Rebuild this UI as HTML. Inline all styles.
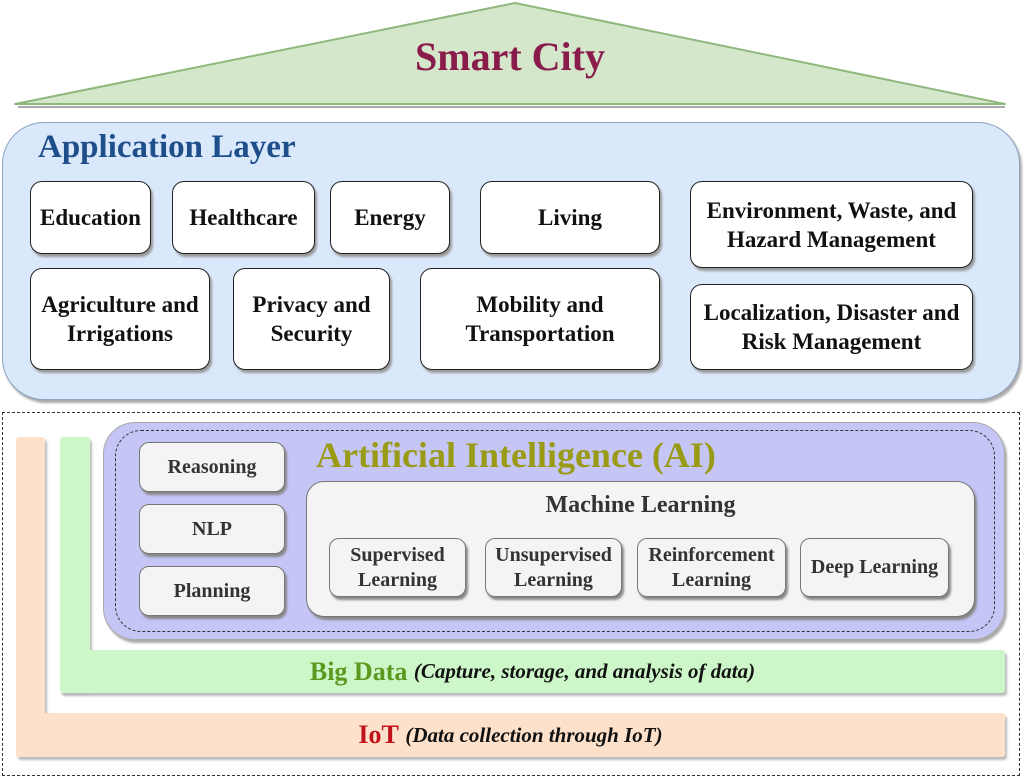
<!DOCTYPE html>
<html><head><meta charset="utf-8"><style>
body{margin:0;width:1024px;height:779px;background:#fff;position:relative;overflow:hidden;font-family:"Liberation Serif",serif;font-weight:bold}
.a{position:absolute;box-sizing:border-box}
.b{position:absolute;box-sizing:border-box;background:#fff;border:1.5px solid #222;border-radius:12px;box-shadow:2px 3px 2px #999;display:flex;align-items:center;justify-content:center;text-align:center;font-size:23px;line-height:29px;color:#111}
.g{position:absolute;box-sizing:border-box;background:#f4f4f4;border:1.5px solid #777;border-radius:10px;box-shadow:2px 3px 2px #888;display:flex;align-items:center;justify-content:center;text-align:center;font-size:20px;line-height:25px;color:#333}
</style></head><body>
<svg class="a" style="left:0;top:0" width="1024" height="120">
<polygon points="515,3 1005,104 15,104" fill="#d4e7cb" stroke="#8fb87e" stroke-width="2" stroke-linejoin="round"/>
<line x1="18" y1="107" x2="1005" y2="107" stroke="#aaa" stroke-width="2"/>
<text x="510" y="70" text-anchor="middle" font-family="Liberation Serif" font-weight="bold" font-size="40" fill="#8a1c4c">Smart City</text>
</svg>
<div class="a" style="left:2px;top:122px;width:1018px;height:278px;background:#dae8fb;border:1.5px solid #8ea3bf;border-radius:42px;box-shadow:2px 3px 2px #aaa"></div>
<div class="a" style="left:38px;top:129px;font-size:33px;color:#1f4f8a">Application Layer</div>
<div class="b" style="left:30px;top:181px;width:121px;height:73px">Education</div>
<div class="b" style="left:172px;top:181px;width:143px;height:73px">Healthcare</div>
<div class="b" style="left:330px;top:181px;width:120px;height:73px">Energy</div>
<div class="b" style="left:480px;top:181px;width:180px;height:73px">Living</div>
<div class="b" style="left:690px;top:181px;width:283px;height:87px">Environment, Waste, and<br>Hazard Management</div>
<div class="b" style="left:30px;top:268px;width:180px;height:102px">Agriculture and<br>Irrigations</div>
<div class="b" style="left:233px;top:268px;width:157px;height:102px">Privacy and<br>Security</div>
<div class="b" style="left:420px;top:268px;width:240px;height:102px">Mobility and<br>Transportation</div>
<div class="b" style="left:690px;top:284px;width:283px;height:86px">Localization, Disaster and<br>Risk Management</div>

<div class="a" style="left:2px;top:412px;width:1018px;height:364px;border:1.5px dashed #333"></div>
<div class="a" style="left:16px;top:437px;width:29px;height:310px;background:#fde1ca;box-shadow:2px 3px 2px #bbb;border-radius:3px"></div>
<div class="a" style="left:16px;top:713px;width:989px;height:44px;background:#fde1ca;box-shadow:2px 3px 2px #bbb;border-radius:3px;display:flex;align-items:center;justify-content:center;font-size:26px;color:#c0121a">IoT&nbsp;<i style="font-size:21px;color:#111">(Data collection through IoT)</i></div>
<div class="a" style="left:60px;top:437px;width:30px;height:255px;background:#cdf7c9;box-shadow:2px 3px 2px #bbb;border-radius:3px"></div>
<div class="a" style="left:60px;top:650px;width:945px;height:43px;background:#cdf7c9;box-shadow:2px 3px 2px #bbb;border-radius:3px;display:flex;align-items:center;justify-content:center;font-size:26px;color:#5b9a1e">Big Data&nbsp;<i style="font-size:21px;color:#111">(Capture, storage, and analysis of data)</i></div>

<div class="a" style="left:103px;top:422px;width:902px;height:218px;background:#c5c5f6;border:1px solid #aaa;border-radius:32px;box-shadow:2px 3px 2px #aaa"></div>
<div class="a" style="left:115px;top:430px;width:880px;height:202px;border:1.5px dashed #333;border-radius:26px"></div>
<div class="a" style="left:316px;top:434px;font-size:36px;color:#999a16">Artificial Intelligence (AI)</div>
<div class="g" style="left:139px;top:442px;width:146px;height:50px">Reasoning</div>
<div class="g" style="left:139px;top:504px;width:146px;height:50px">NLP</div>
<div class="g" style="left:139px;top:566px;width:146px;height:50px">Planning</div>
<div class="a" style="left:306px;top:481px;width:669px;height:136px;background:#f4f4f4;border:1.5px solid #777;border-radius:18px;box-shadow:2px 3px 2px #888"></div>
<div class="a" style="left:306px;top:492px;width:669px;text-align:center;font-size:24px;color:#333">Machine Learning</div>
<div class="g" style="left:329px;top:538px;width:137px;height:59px">Supervised<br>Learning</div>
<div class="g" style="left:485px;top:538px;width:137px;height:59px">Unsupervised<br>Learning</div>
<div class="g" style="left:637px;top:538px;width:149px;height:59px">Reinforcement<br>Learning</div>
<div class="g" style="left:800px;top:538px;width:149px;height:59px">Deep Learning</div>
</body></html>
